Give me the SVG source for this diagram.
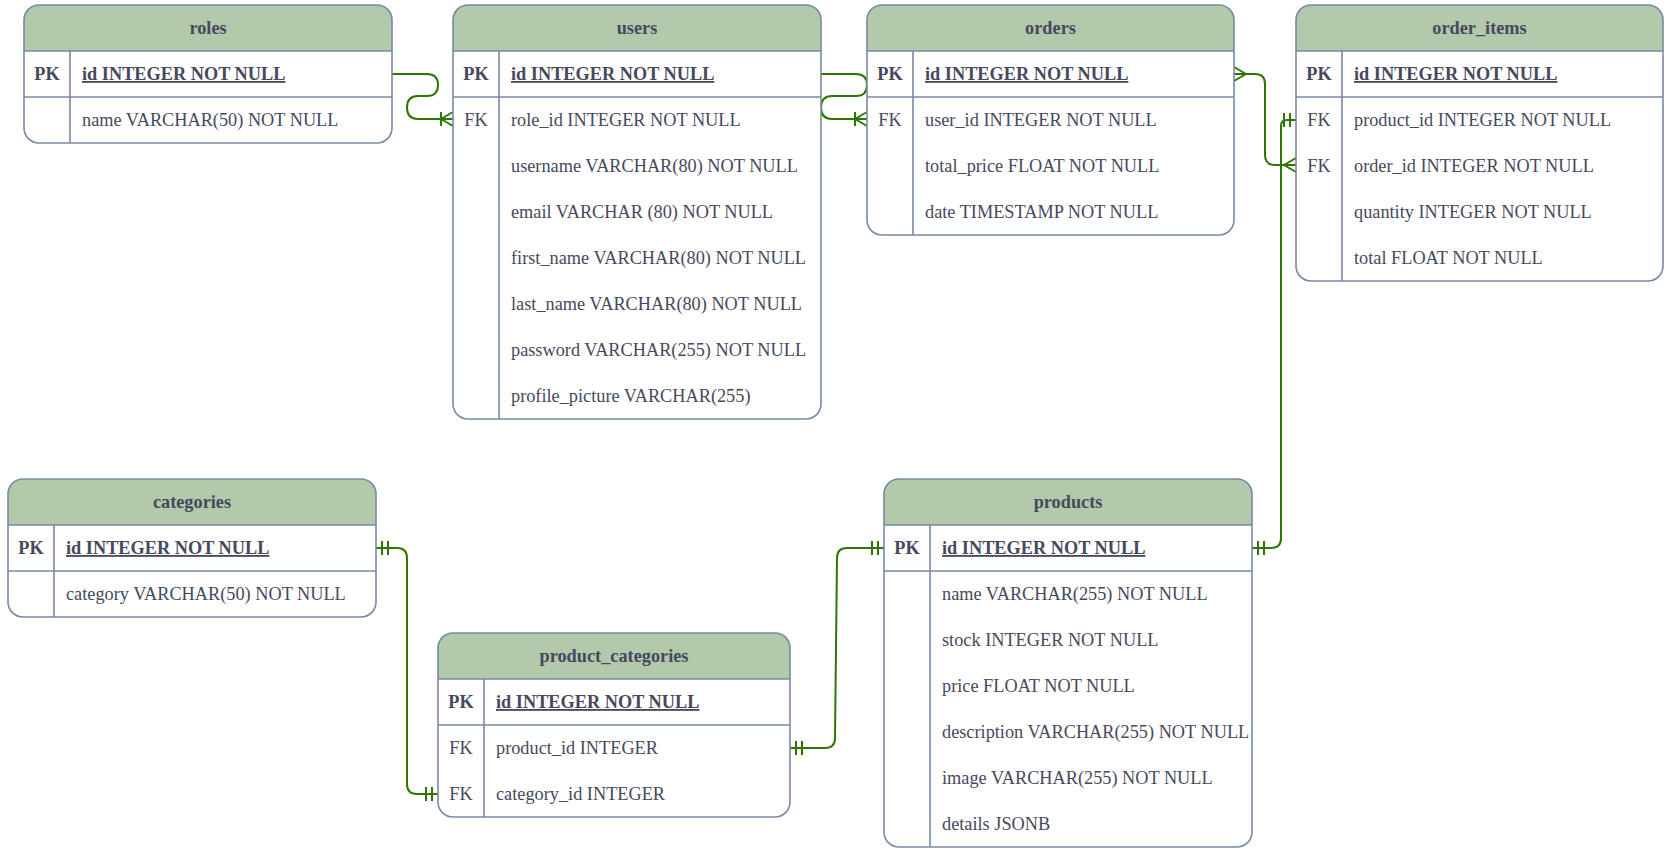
<svg xmlns="http://www.w3.org/2000/svg" width="1670" height="854" viewBox="0 0 1670 854">
<style>
  text { font-family: "Liberation Serif", "Times New Roman", serif; font-size: 18.3px; fill: #46495D; }
  .h { font-weight: bold; text-anchor: middle; }
  .k { text-anchor: middle; }
  .kb { text-anchor: middle; font-weight: bold; }
  .pk { font-weight: bold; text-decoration: underline; }
  .body { fill: #FFFFFF; stroke: none; }
  .head { fill: #B2C9AB; stroke: none; }
  .ln { stroke: #788AA3; stroke-width: 1.6; fill: none; }
  .frame { fill: none; stroke: #788AA3; stroke-width: 1.6; }
  .edge { fill: none; stroke: #2D7600; stroke-width: 2; }
  .mk { fill: none; stroke: #2D7600; stroke-width: 2; }
</style>
<defs>
  <marker id="mandOne" markerUnits="userSpaceOnUse" viewBox="-16 -10 18 20" refX="0" refY="0" markerWidth="18" markerHeight="20" orient="auto-start-reverse" overflow="visible">
    <path class="mk" d="M-6,-7 V7 M-12,-7 V7"/>
  </marker>
  <marker id="oneMany" markerUnits="userSpaceOnUse" viewBox="-16 -10 18 20" refX="0" refY="0" markerWidth="18" markerHeight="20" orient="auto-start-reverse" overflow="visible">
    <path class="mk" d="M-12,0 L0,-7 M-12,0 L0,7 M-12,-7 V7"/>
  </marker>
  <marker id="many" markerUnits="userSpaceOnUse" viewBox="-16 -10 18 20" refX="0" refY="0" markerWidth="18" markerHeight="20" orient="auto-start-reverse" overflow="visible">
    <path class="mk" d="M-12,0 L0,-7 M-12,0 L0,7"/>
  </marker>
</defs>
<rect width="1670" height="854" fill="#FFFFFF"/>

<g id="connectors">
  <path class="edge" d="M392,74 H427 Q438,74 438,85 Q438,96 427,96 H418 Q407,96 407,107.5 Q407,119 418,119 H453" marker-end="url(#oneMany)"/>
  <path class="edge" d="M821,74 H856 Q867,74 867,85 Q867,96 856,96 H832 Q821,96 821,107.5 Q821,119 832,119 H867" marker-end="url(#oneMany)"/>
  <path class="edge" d="M1234,74 H1255 Q1265,74 1265,84 V155 Q1265,165 1275,165 H1296" marker-start="url(#many)" marker-end="url(#many)"/>
  <path class="edge" d="M1252,548 H1271 Q1281,548 1281,538 V126 Q1281,120 1287,120 H1296" marker-start="url(#mandOne)" marker-end="url(#mandOne)"/>
  <path class="edge" d="M376,548 H397 Q407,548 407,558 V784 Q407,794 417,794 H438" marker-start="url(#mandOne)" marker-end="url(#mandOne)"/>
  <path class="edge" d="M790,748 H825 Q835,748 835,738 L837,558 Q837,548 847,548 H884" marker-start="url(#mandOne)" marker-end="url(#mandOne)"/>
</g>

<g id="roles">
  <rect class="body" x="24" y="5" width="368" height="138" rx="15"/>
  <path class="head" d="M24,51 V20 A15,15 0 0 1 39,5 H377 A15,15 0 0 1 392,20 V51 Z"/>
  <path class="ln" d="M24,51 H392 M24,97 H392 M70,51 V143"/>
  <rect class="frame" x="24" y="5" width="368" height="138" rx="15"/>
  <text class="h" x="208" y="34">roles</text>
  <text class="kb" x="47" y="80">PK</text>
  <text class="pk" x="82" y="80">id INTEGER NOT NULL</text>
  <text x="82" y="126">name VARCHAR(50) NOT NULL</text>
</g>

<g id="users">
  <rect class="body" x="453" y="5" width="368" height="414" rx="15"/>
  <path class="head" d="M453,51 V20 A15,15 0 0 1 468,5 H806 A15,15 0 0 1 821,20 V51 Z"/>
  <path class="ln" d="M453,51 H821 M453,97 H821 M499,51 V419"/>
  <rect class="frame" x="453" y="5" width="368" height="414" rx="15"/>
  <text class="h" x="637" y="34">users</text>
  <text class="kb" x="476" y="80">PK</text>
  <text class="pk" x="511" y="80">id INTEGER NOT NULL</text>
  <text class="k" x="476" y="126">FK</text>
  <text x="511" y="126">role_id INTEGER NOT NULL</text>
  <text x="511" y="172">username VARCHAR(80) NOT NULL</text>
  <text x="511" y="218">email VARCHAR (80) NOT NULL</text>
  <text x="511" y="264">first_name VARCHAR(80) NOT NULL</text>
  <text x="511" y="310">last_name VARCHAR(80) NOT NULL</text>
  <text x="511" y="356">password VARCHAR(255) NOT NULL</text>
  <text x="511" y="402">profile_picture VARCHAR(255)</text>
</g>

<g id="orders">
  <rect class="body" x="867" y="5" width="367" height="230" rx="15"/>
  <path class="head" d="M867,51 V20 A15,15 0 0 1 882,5 H1219 A15,15 0 0 1 1234,20 V51 Z"/>
  <path class="ln" d="M867,51 H1234 M867,97 H1234 M913,51 V235"/>
  <rect class="frame" x="867" y="5" width="367" height="230" rx="15"/>
  <text class="h" x="1050.5" y="34">orders</text>
  <text class="kb" x="890" y="80">PK</text>
  <text class="pk" x="925" y="80">id INTEGER NOT NULL</text>
  <text class="k" x="890" y="126">FK</text>
  <text x="925" y="126">user_id INTEGER NOT NULL</text>
  <text x="925" y="172">total_price FLOAT NOT NULL</text>
  <text x="925" y="218">date TIMESTAMP NOT NULL</text>
</g>

<g id="order_items">
  <rect class="body" x="1296" y="5" width="367" height="276" rx="15"/>
  <path class="head" d="M1296,51 V20 A15,15 0 0 1 1311,5 H1648 A15,15 0 0 1 1663,20 V51 Z"/>
  <path class="ln" d="M1296,51 H1663 M1296,97 H1663 M1342,51 V281"/>
  <rect class="frame" x="1296" y="5" width="367" height="276" rx="15"/>
  <text class="h" x="1479.5" y="34">order_items</text>
  <text class="kb" x="1319" y="80">PK</text>
  <text class="pk" x="1354" y="80">id INTEGER NOT NULL</text>
  <text class="k" x="1319" y="126">FK</text>
  <text x="1354" y="126">product_id INTEGER NOT NULL</text>
  <text class="k" x="1319" y="172">FK</text>
  <text x="1354" y="172">order_id INTEGER NOT NULL</text>
  <text x="1354" y="218">quantity INTEGER NOT NULL</text>
  <text x="1354" y="264">total FLOAT NOT NULL</text>
</g>

<g id="categories">
  <rect class="body" x="8" y="479" width="368" height="138" rx="15"/>
  <path class="head" d="M8,525 V494 A15,15 0 0 1 23,479 H361 A15,15 0 0 1 376,494 V525 Z"/>
  <path class="ln" d="M8,525 H376 M8,571 H376 M54,525 V617"/>
  <rect class="frame" x="8" y="479" width="368" height="138" rx="15"/>
  <text class="h" x="192" y="508">categories</text>
  <text class="kb" x="31" y="554">PK</text>
  <text class="pk" x="66" y="554">id INTEGER NOT NULL</text>
  <text x="66" y="600">category VARCHAR(50) NOT NULL</text>
</g>

<g id="product_categories">
  <rect class="body" x="438" y="633" width="352" height="184" rx="15"/>
  <path class="head" d="M438,679 V648 A15,15 0 0 1 453,633 H775 A15,15 0 0 1 790,648 V679 Z"/>
  <path class="ln" d="M438,679 H790 M438,725 H790 M484,679 V817"/>
  <rect class="frame" x="438" y="633" width="352" height="184" rx="15"/>
  <text class="h" x="614" y="662">product_categories</text>
  <text class="kb" x="461" y="708">PK</text>
  <text class="pk" x="496" y="708">id INTEGER NOT NULL</text>
  <text class="k" x="461" y="754">FK</text>
  <text x="496" y="754">product_id INTEGER</text>
  <text class="k" x="461" y="800">FK</text>
  <text x="496" y="800">category_id INTEGER</text>
</g>

<g id="products">
  <rect class="body" x="884" y="479" width="368" height="368" rx="15"/>
  <path class="head" d="M884,525 V494 A15,15 0 0 1 899,479 H1237 A15,15 0 0 1 1252,494 V525 Z"/>
  <path class="ln" d="M884,525 H1252 M884,571 H1252 M930,525 V847"/>
  <rect class="frame" x="884" y="479" width="368" height="368" rx="15"/>
  <text class="h" x="1068" y="508">products</text>
  <text class="kb" x="907" y="554">PK</text>
  <text class="pk" x="942" y="554">id INTEGER NOT NULL</text>
  <text x="942" y="600">name VARCHAR(255) NOT NULL</text>
  <text x="942" y="646">stock INTEGER NOT NULL</text>
  <text x="942" y="692">price FLOAT NOT NULL</text>
  <text x="942" y="738">description VARCHAR(255) NOT NULL</text>
  <text x="942" y="784">image VARCHAR(255) NOT NULL</text>
  <text x="942" y="830">details JSONB</text>
</g>
</svg>
